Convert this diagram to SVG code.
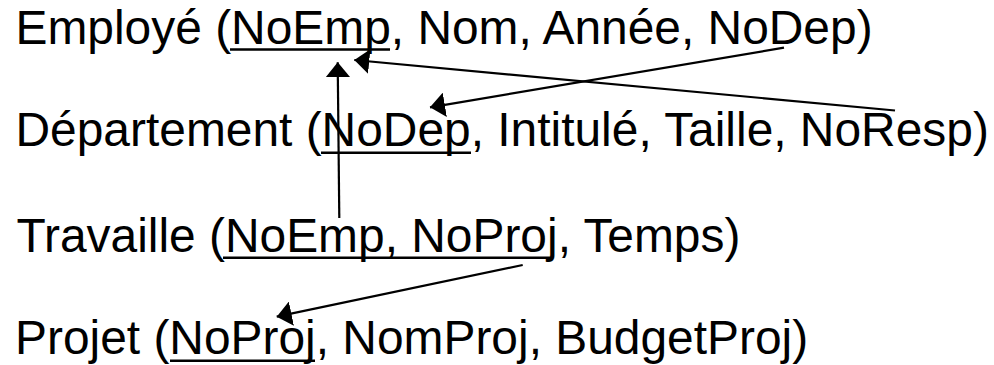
<svg xmlns="http://www.w3.org/2000/svg" width="994" height="365" viewBox="0 0 994 365">
<style>
.t{font-family:"Liberation Sans",Arial,sans-serif;font-size:47.9px;fill:#000}
.u{stroke:#000;stroke-width:2.6}
.c{stroke:#000;stroke-width:2.2;fill:none;marker-end:url(#ah)}
</style>
<defs>
<marker id="ah" viewBox="0 -12.3 15 24.6" refX="15" refY="0" markerWidth="15" markerHeight="24.6" markerUnits="userSpaceOnUse" orient="auto">
<path d="M0,-12.3 L15,0 L0,12.3 Z" fill="#000"/>
</marker>
</defs>
<rect width="994" height="365" fill="#fff"/>
<g id="employe">
<text class="t" x="15.5" y="43.5">Employé (NoEmp, Nom, Année, NoDep)</text>
<line class="u" x1="230" y1="49.5" x2="390" y2="49.5"/>
</g>
<g id="departement">
<text class="t" x="15.5" y="146">Département (NoDep, Intitulé, Taille, NoResp)</text>
<line class="u" x1="321" y1="152.7" x2="471" y2="152.7"/>
</g>
<g id="travaille">
<text class="t" x="16.5" y="251.5">Travaille (NoEmp, NoProj, Temps)</text>
<line class="u" x1="223" y1="257.7" x2="551" y2="257.7"/>
</g>
<g id="projet">
<text class="t" x="15" y="354">Projet (NoProj, NomProj, BudgetProj)</text>
<line class="u" x1="170" y1="360.7" x2="315" y2="360.7"/>
</g>
<g id="connectors">
<line class="c" x1="339.3" y1="218" x2="337.7" y2="62.3"/>
<line class="c" x1="895" y1="110.5" x2="354.3" y2="60"/>
<line class="c" x1="784" y1="47.7" x2="430" y2="107.3"/>
<line class="c" x1="522.7" y1="265" x2="276.7" y2="316.7"/>
</g>
</svg>
